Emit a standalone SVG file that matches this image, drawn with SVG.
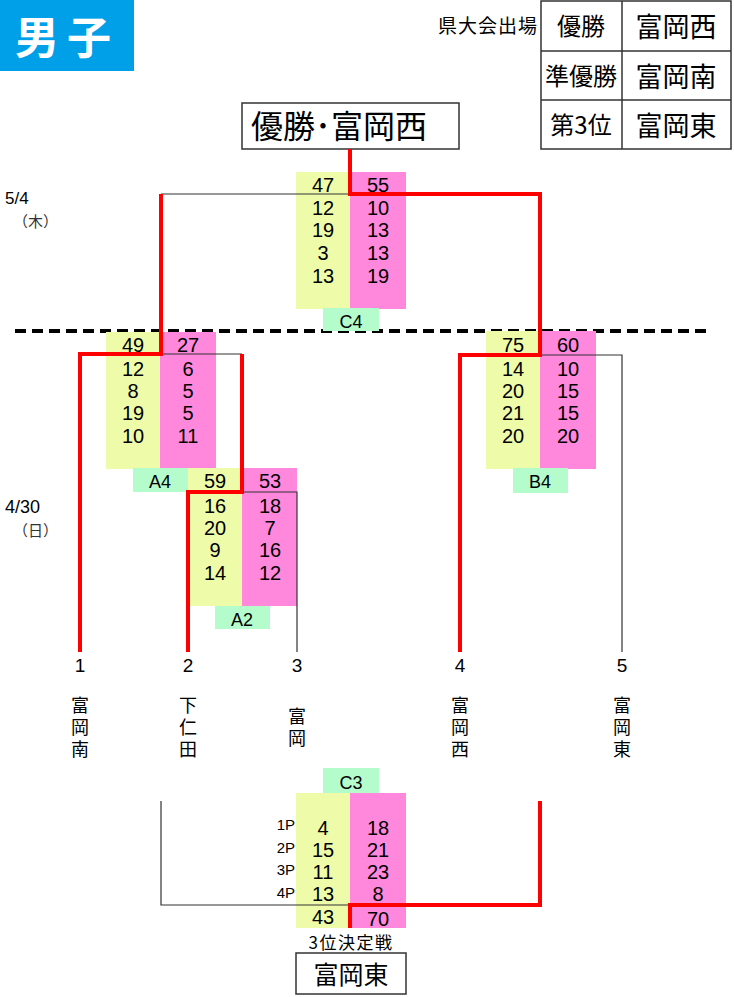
<svg xmlns="http://www.w3.org/2000/svg" width="734" height="997" viewBox="0 0 734 997">
<style>
text{font-family:"Liberation Sans","Noto Sans CJK JP",sans-serif;fill:#000}
.j{font-family:"Noto Sans CJK JP","Liberation Sans",sans-serif}
.s{font-size:20px;text-anchor:middle}
.lb{font-size:18px;text-anchor:middle}
.pl{font-size:15px;text-anchor:end}
.y{fill:#EEFCAA}
.p{fill:#FF88DD}
.g{fill:#B4FCCC}
.red{fill:none;stroke:#FF0000;stroke-width:4}
.blk{fill:none;stroke:#333;stroke-width:1.2}
.box{fill:#fff;stroke:#333;stroke-width:1.5}
.tn{font-size:19px;text-anchor:middle}
.vt{font-size:18px;text-anchor:middle;writing-mode:vertical-rl;letter-spacing:4px}
</style>
<rect width="734" height="997" fill="#fff"/>

<g id="header">
<rect x="0" y="0" width="134" height="71" fill="#00A0E9"/>
<text x="67" y="54" class="j" style="font-size:44px;font-weight:bold;fill:#fff;text-anchor:middle;letter-spacing:8px">男子</text>
</g>

<g id="result-table">
<text x="538" y="33" class="j" style="font-size:19px;text-anchor:end;letter-spacing:1px">県大会出場</text>
<rect x="541" y="1" width="190" height="148" fill="none" stroke="#333" stroke-width="1.5"/>
<line x1="622" y1="1" x2="622" y2="149" stroke="#333" stroke-width="1.5"/>
<line x1="541" y1="51" x2="731" y2="51" stroke="#333" stroke-width="1.5"/>
<line x1="541" y1="100" x2="731" y2="100" stroke="#333" stroke-width="1.5"/>
<text x="581" y="35" class="j" style="font-size:24px;text-anchor:middle">優勝</text>
<text x="581" y="85" class="j" style="font-size:24px;text-anchor:middle">準優勝</text>
<text x="581" y="134" class="j" style="font-size:24px;text-anchor:middle">第3位</text>
<text x="676" y="37" class="j" style="font-size:27px;text-anchor:middle">富岡西</text>
<text x="676" y="87" class="j" style="font-size:27px;text-anchor:middle">富岡南</text>
<text x="676" y="136" class="j" style="font-size:27px;text-anchor:middle">富岡東</text>
</g>

<g id="champion">
<rect x="242" y="103" width="217" height="46" class="box"/>
<text x="339" y="138" class="j" style="font-size:32px;text-anchor:middle">優勝･富岡西</text>
</g>

<g id="dates">
<text x="5" y="204" style="font-size:17px">5/4</text>
<text x="13" y="227" class="j" style="font-size:15px;fill:#333">（木）</text>
<text x="5" y="513" style="font-size:18px">4/30</text>
<text x="13" y="536" class="j" style="font-size:15px;fill:#333">（日）</text>
</g>

<line id="day-divider" x1="15" y1="331" x2="712" y2="331" stroke="#000" stroke-width="4" stroke-dasharray="11 6"/>

<g id="match-C4">
<rect x="296" y="172" width="54" height="137" class="y"/>
<rect x="350" y="172" width="56" height="137" class="p"/>
<rect x="323" y="308" width="56" height="23" class="g"/>
<text x="351" y="328" class="lb">C4</text>
<text class="s" x="323" y="192">47</text><text class="s" x="323" y="215">12</text><text class="s" x="323" y="237">19</text><text class="s" x="323" y="260">3</text><text class="s" x="323" y="283">13</text>
<text class="s" x="378" y="192">55</text><text class="s" x="378" y="215">10</text><text class="s" x="378" y="237">13</text><text class="s" x="378" y="260">13</text><text class="s" x="378" y="283">19</text>
</g>

<g id="match-A4">
<rect x="106" y="332" width="54" height="137" class="y"/>
<rect x="160" y="332" width="56" height="137" class="p"/>
<rect x="133" y="468" width="55" height="24" class="g"/>
<text x="160" y="488" class="lb">A4</text>
<text class="s" x="133" y="352">49</text><text class="s" x="133" y="376">12</text><text class="s" x="133" y="398">8</text><text class="s" x="133" y="420">19</text><text class="s" x="133" y="443">10</text>
<text class="s" x="188" y="352">27</text><text class="s" x="188" y="376">6</text><text class="s" x="188" y="398">5</text><text class="s" x="188" y="420">5</text><text class="s" x="188" y="443">11</text>
</g>

<g id="match-A2">
<rect x="188" y="468" width="54" height="138" class="y"/>
<rect x="242" y="468" width="55" height="138" class="p"/>
<rect x="215" y="606" width="55" height="23" class="g"/>
<text x="242" y="626" class="lb">A2</text>
<text class="s" x="215" y="488">59</text><text class="s" x="215" y="513">16</text><text class="s" x="215" y="535">20</text><text class="s" x="215" y="557">9</text><text class="s" x="215" y="580">14</text>
<text class="s" x="270" y="488">53</text><text class="s" x="270" y="513">18</text><text class="s" x="270" y="535">7</text><text class="s" x="270" y="557">16</text><text class="s" x="270" y="580">12</text>
</g>

<g id="match-B4">
<rect x="486" y="331" width="54" height="138" class="y"/>
<rect x="540" y="331" width="56" height="138" class="p"/>
<rect x="513" y="468" width="55" height="25" class="g"/>
<text x="540" y="488" class="lb">B4</text>
<text class="s" x="513" y="352">75</text><text class="s" x="513" y="376">14</text><text class="s" x="513" y="398">20</text><text class="s" x="513" y="420">21</text><text class="s" x="513" y="443">20</text>
<text class="s" x="568" y="352">60</text><text class="s" x="568" y="376">10</text><text class="s" x="568" y="398">15</text><text class="s" x="568" y="420">15</text><text class="s" x="568" y="443">20</text>
</g>

<g id="match-C3">
<rect x="296" y="793" width="54" height="135" class="y"/>
<rect x="350" y="793" width="56" height="135" class="p"/>
<rect x="323" y="768" width="56" height="25" class="g"/>
<text x="351" y="789" class="lb">C3</text>
<text x="295" y="830" class="pl">1P</text>
<text x="295" y="853" class="pl">2P</text>
<text x="295" y="875" class="pl">3P</text>
<text x="295" y="898" class="pl">4P</text>
<text class="s" x="323" y="835">4</text><text class="s" x="323" y="857">15</text><text class="s" x="323" y="879">11</text><text class="s" x="323" y="901">13</text><text class="s" x="323" y="924">43</text>
<text class="s" x="378" y="835">18</text><text class="s" x="378" y="857">21</text><text class="s" x="378" y="879">23</text><text class="s" x="378" y="901">8</text><text class="s" x="378" y="926">70</text>
<text x="351" y="949" class="j" style="font-size:17px;text-anchor:middle;letter-spacing:1.5px">3位決定戦</text>
</g>

<g id="third-place">
<rect x="296" y="953" width="110" height="41" class="box"/>
<text x="351" y="984" class="j" style="font-size:25px;text-anchor:middle">富岡東</text>
</g>

<g id="connectors">
<polyline class="blk" points="161,194 350,194"/>
<polyline class="blk" points="161,354 242,354"/>
<polyline class="blk" points="242,492 297,492 297,652"/>
<polyline class="blk" points="540,355 622,355 622,652"/>
<polyline class="blk" points="161,801 161,905 350,905"/>
<polyline class="red" points="350,149 350,194 540,194 540,355 460,355 460,652"/>
<polyline class="red" points="161,194 161,354 80,354 80,652"/>
<polyline class="red" points="242,354 242,492 188,492 188,652"/>
<polyline class="red" points="540,801 540,905 350,905 350,928"/>
</g>

<g id="team-1">
<text x="80" y="672" class="tn">1</text>
<text x="80" y="729" class="j vt">富岡南</text>
</g>
<g id="team-2">
<text x="188" y="672" class="tn">2</text>
<text x="188" y="729" class="j vt">下仁田</text>
</g>
<g id="team-3">
<text x="297" y="672" class="tn">3</text>
<text x="297" y="729" class="j vt">富岡</text>
</g>
<g id="team-4">
<text x="460" y="672" class="tn">4</text>
<text x="460" y="729" class="j vt">富岡西</text>
</g>
<g id="team-5">
<text x="622" y="672" class="tn">5</text>
<text x="622" y="729" class="j vt">富岡東</text>
</g>
</svg>
